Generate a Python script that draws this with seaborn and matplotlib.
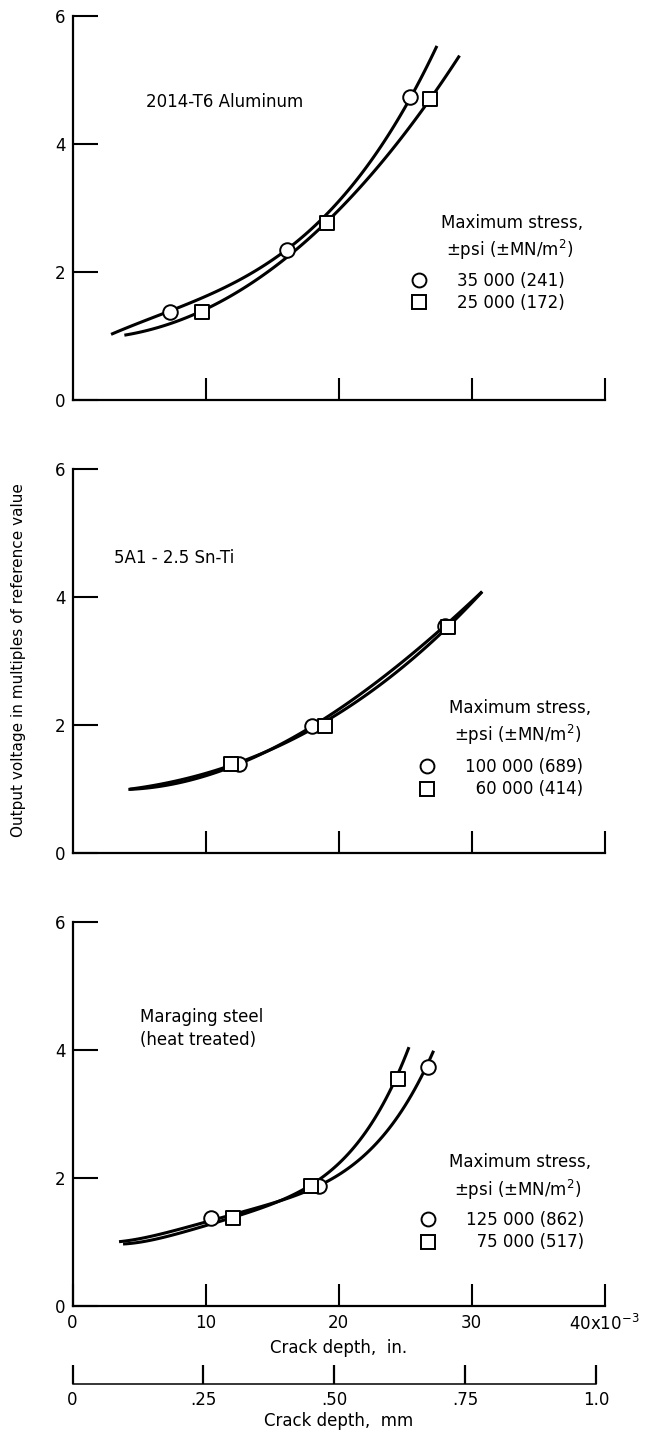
import numpy as np
import pandas as pd
import matplotlib.pyplot as plt
from matplotlib.lines import Line2D
import seaborn as sns

sns.set_theme(style="ticks")
plt.rcParams['font.family'] = ['DejaVu Sans']
plt.rcParams['mathtext.fontset'] = 'dejavusans'
plt.rcParams['text.color'] = 'black'
plt.rcParams['axes.labelcolor'] = 'black'

# crack depth in 1e-3 in., output voltage in multiples of reference value
# 2014-T6 Aluminum
al_circ_x = [7.3, 16.1, 25.4]
al_circ_y = [1.38, 2.34, 4.74]
al_sq_x = [9.7, 19.1, 26.9]
al_sq_y = [1.38, 2.77, 4.71]
al_circ_curve_x = [2.9, 5, 7.3, 10, 13, 16.1, 19, 22, 24, 25.4, 27.4]
al_circ_curve_y = [1.03, 1.2, 1.38, 1.62, 1.95, 2.34, 2.87, 3.6, 4.23, 4.74, 5.52]
al_sq_curve_x = [3.9, 6, 9.7, 13, 16, 19.1, 22, 24, 26.9, 29.1]
al_sq_curve_y = [1.0, 1.13, 1.38, 1.76, 2.22, 2.77, 3.4, 3.92, 4.71, 5.375]

# 5Al-2.5Sn-Ti
ti_circ_x = [12.5, 18.0, 28.0]
ti_circ_y = [1.39, 1.99, 3.54]
ti_sq_x = [11.95, 19.0, 28.2]
ti_sq_y = [1.39, 1.99, 3.53]
ti_circ_curve_x = [4.2, 6, 8, 10, 12.5, 15, 18, 21, 24, 28, 30.8]
ti_circ_curve_y = [0.99, 1.03, 1.1, 1.2, 1.39, 1.62, 1.99, 2.38, 2.86, 3.54, 4.09]
ti_sq_curve_x = [4.3, 6, 8, 10, 11.95, 15, 19, 22, 25, 28.2, 30.8]
ti_sq_curve_y = [0.99, 1.05, 1.14, 1.25, 1.39, 1.63, 1.99, 2.47, 2.97, 3.53, 4.07]

# Maraging steel
st_circ_x = [10.4, 18.55, 26.75]
st_circ_y = [1.38, 1.88, 3.73]
st_sq_x = [12.05, 17.95, 24.45]
st_sq_y = [1.38, 1.88, 3.54]
st_circ_curve_x = [3.5, 6, 8, 10.4, 12, 14, 16, 18.55, 20.5, 22.4, 24.5, 25.8, 26.75, 27.15]
st_circ_curve_y = [1.0, 1.1, 1.2, 1.34, 1.42, 1.53, 1.67, 1.88, 2.12, 2.47, 3.0, 3.35, 3.73, 4.08]
st_sq_curve_x = [3.8, 6, 8, 10, 12.05, 14, 16, 17.95, 20, 22.4, 23.5, 24.45, 25.3]
st_sq_curve_y = [0.96, 1.05, 1.14, 1.24, 1.38, 1.52, 1.68, 1.88, 2.25, 2.85, 3.2, 3.54, 4.1]

materials = ["2014-T6 Aluminum", "5A1 - 2.5 Sn-Ti", "Maraging steel\n(heat treated)"]
stress_labels = [["35 000 (241)", "25 000 (172)"],
                 ["100 000 (689)", "\u200760 000 (414)"],
                 ["125 000 (862)", "\u200775 000 (517)"]]
in_ticks = [0, 10, 20, 30, 40]
in_ticklabels = ["0", "10", "20", "30", "40x10$^{-3}$"]
mm_ticks = [0, 0.25, 0.5, 0.75, 1.0]
mm_ticklabels = ["0", ".25", ".50", ".75", "1.0"]

panels = [
    (al_circ_x, al_circ_y, al_sq_x, al_sq_y, al_circ_curve_x, al_circ_curve_y, al_sq_curve_x, al_sq_curve_y),
    (ti_circ_x, ti_circ_y, ti_sq_x, ti_sq_y, ti_circ_curve_x, ti_circ_curve_y, ti_sq_curve_x, ti_sq_curve_y),
    (st_circ_x, st_circ_y, st_sq_x, st_sq_y, st_circ_curve_x, st_circ_curve_y, st_sq_curve_x, st_sq_curve_y),
]
fit_order = [3, 3, 4]
# text anchors (data coords): material label, legend title, legend box
mat_pos = [(5.5, 4.66), (3.1, 4.61), (5.1, 4.33)]
title_pos = [(27.7, 2.77), (28.3, 2.27), (28.3, 2.25)]
leg_pos = [(25.4, 2.0), (26.0, 1.48), (26.1, 1.48)]

fig = plt.figure(figsize=(6.47, 14.36), dpi=100)
L, W, H = 72.5 / 647, 532 / 647, 384 / 1436
bottoms = [(1436 - 400) / 1436, (1436 - 853) / 1436, (1436 - 1306) / 1436]

for i, (cx, cy, sx, sy, ccx, ccy, scx, scy) in enumerate(panels):
    ax = fig.add_axes([L, bottoms[i], W, H])
    # smooth faired curves through the points
    for qx, qy in [(ccx, ccy), (scx, scy)]:
        sns.regplot(x=qx, y=qy, order=fit_order[i], ci=None, scatter=False, truncate=True,
                    color="black", line_kws={"lw": 2.2, "solid_capstyle": "butt"}, ax=ax)
    sns.scatterplot(x=cx, y=cy, marker="o", s=110, facecolor="white", edgecolor="black",
                    linewidth=1.4, zorder=3, ax=ax)
    sns.scatterplot(x=sx, y=sy, marker="s", s=110, facecolor="white", edgecolor="black",
                    linewidth=1.4, zorder=3, ax=ax)
    ax.set_xlim(0, 40)
    ax.set_ylim(0, 6)
    ax.set_yticks([0, 2, 4, 6])
    ax.set_yticklabels(["0", "2", "4", "6"], fontsize=12)
    sns.despine(ax=ax)
    for sp in ["left", "bottom"]:
        ax.spines[sp].set_linewidth(1.6)
        ax.spines[sp].set_color("black")
    ax.tick_params(axis="y", direction="in", length=18, width=1.5, pad=5, colors="black")
    ax.tick_params(axis="x", direction="in", length=16, width=1.5, pad=6, colors="black")
    if i < 2:
        ax.set_xticks([10, 20, 30, 40])
        ax.set_xticklabels([])
    else:
        ax.set_xticks(in_ticks)
        ax.set_xticklabels(in_ticklabels, fontsize=12)
        ax.set_xlabel("Crack depth,  in.", fontsize=12, labelpad=3)
    ax.set_ylabel("")
    ax.text(*mat_pos[i], materials[i], fontsize=12, ha="left", va="center", linespacing=1.35)
    tx, ty = title_pos[i]
    ax.text(tx, ty, "Maximum stress,", fontsize=12, ha="left", va="center")
    ax.text(tx + 0.4, ty - 0.43, "\u00b1psi (\u00b1MN/m$^2$)", fontsize=12, ha="left", va="center")
    handles = [Line2D([], [], ls="none", marker="o", ms=10, mfc="white", mec="black", mew=1.4),
               Line2D([], [], ls="none", marker="s", ms=10, mfc="white", mec="black", mew=1.4)]
    ax.legend(handles, stress_labels[i], loc="upper left", bbox_to_anchor=leg_pos[i],
              bbox_transform=ax.transData, frameon=False, fontsize=12, handlelength=1.0,
              handletextpad=1.8, labelspacing=0.25, borderpad=0, borderaxespad=0)

# secondary crack-depth scale in mm
axm = fig.add_axes([L, (1436 - 1384) / 1436, W, 0.0001])
axm.set_xlim(0, 40 * 0.0254)
axm.set_yticks([])
axm.patch.set_visible(False)
for sp in ["top", "right", "left"]:
    axm.spines[sp].set_visible(False)
axm.spines["bottom"].set_bounds(0, 1.0)
axm.spines["bottom"].set_linewidth(1.1)
axm.spines["bottom"].set_color("black")
axm.set_xticks(mm_ticks)
axm.set_xticklabels(mm_ticklabels, fontsize=12)
axm.tick_params(axis="x", direction="in", length=14, width=1.6, pad=5, colors="black")
axm.set_xlabel("Crack depth,  mm", fontsize=12, labelpad=2)

fig.text(0.028, 0.540, "Output voltage in multiples of reference value", rotation=90,
         fontsize=11, ha="center", va="center")

fig.savefig("out.png", dpi=100, facecolor="white")
